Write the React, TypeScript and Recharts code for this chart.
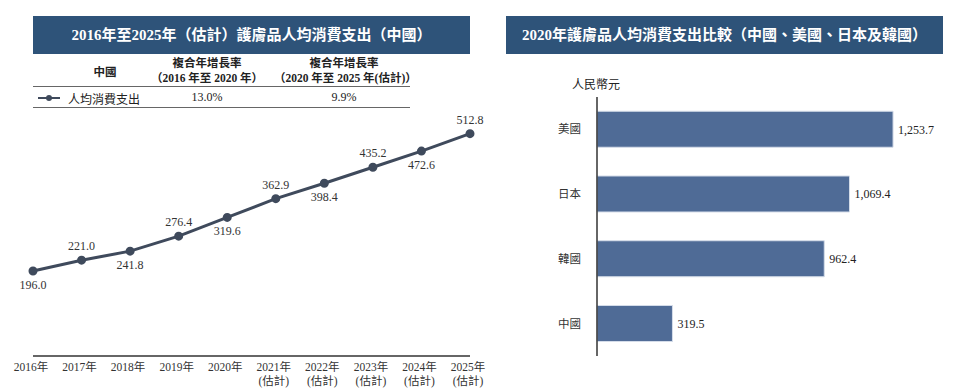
import React from 'react';
import { Bar, BarChart, LabelList, Line, LineChart, XAxis, YAxis } from 'recharts';

const years = ['2016年', '2017年', '2018年', '2019年', '2020年', '2021年', '2022年', '2023年', '2024年', '2025年'];
const estimatedYears = ['2021年', '2022年', '2023年', '2024年', '2025年'];
const spendChina = [196.0, 221.0, 241.8, 276.4, 319.6, 362.9, 398.4, 435.2, 472.6, 512.8];

const countries = ['美國', '日本', '韓國', '中國'];
const spend2020 = [1253.7, 1069.4, 962.4, 319.5];

const cagrLabels = ['（2016 年至 2020 年）', '（2020 年至 2025 年(估計)）'];
const cagrValues = ['13.0%', '9.9%'];

const FONT = "'Liberation Serif', 'Noto Sans CJK TC', serif";
const BANNER = '#2e5379';
const LINE = '#3f4a5c';
const BAR = '#4f6b96';

const lineData = years.map((y, i) => ({ year: y, value: spendChina[i] }));
const barData = countries.map((c, i) => ({ country: c, value: spend2020[i] }));

const YearTick = ({ x, y, payload }: any) => {
  const est = estimatedYears.includes(payload.value);
  return (
    <g transform={`translate(${x},${y})`}>
      <text textAnchor="middle" fontSize={11.5} fill="#333" fontFamily={FONT}>
        <tspan x={-2} dy={15}>{payload.value}</tspan>
        {est && <tspan x={-2} dy={14}>(估計)</tspan>}
      </text>
    </g>
  );
};

const PointLabel = ({ x, y, value, index }: any) => {
  const below = index % 2 === 0;
  return (
    <text x={x} y={below ? y + 18 : y - 10} textAnchor="middle" fontSize={12} fill="#333" fontFamily={FONT}>
      {Number(value).toFixed(1)}
    </text>
  );
};

const fmt = (v: number) =>
  v.toLocaleString('en-US', { minimumFractionDigits: 1, maximumFractionDigits: 1 });

const Banner = ({ left, width, text }: any) => (
  <div
    style={{
      position: 'absolute',
      left,
      top: 16,
      width,
      height: 38,
      background: BANNER,
      color: '#fff',
      fontWeight: 'bold',
      fontSize: 15,
      lineHeight: '38px',
      textAlign: 'center',
    }}
  >
    {text}
  </div>
);

const abs = (left: number, top: number, extra: any = {}) => ({
  position: 'absolute' as const,
  left,
  top,
  ...extra,
});

export default function App() {
  return (
    <div style={{ position: 'absolute', left: 0, top: 0, width: 962, height: 391, background: '#fff', fontFamily: FONT, color: '#222' }}>
      {/* left panel */}
      <Banner left={33} width={437} text="2016年至2025年（估計）護膚品人均消費支出（中國）" />

      <div style={abs(75, 63, { width: 60, textAlign: 'center', fontSize: 11.5, fontWeight: 'bold' })}>中國</div>
      {cagrLabels.map((t, i) => (
        <div
          key={t}
          style={abs(i === 0 ? 147 : 274, 56, { width: i === 0 ? 120 : 140, textAlign: 'center', fontSize: 11.5, fontWeight: 'bold', lineHeight: '15px' })}
        >
          <div>複合年增長率</div>
          <div>{t}</div>
        </div>
      ))}
      <div style={abs(33, 86, { width: 377, height: 1, background: '#666' })} />
      <div style={abs(38, 97, { width: 22, height: 2, background: LINE })} />
      <div style={abs(46, 95, { width: 6, height: 6, borderRadius: 3, background: LINE })} />
      <div style={abs(68, 90, { fontSize: 12 })}>人均消費支出</div>
      {cagrValues.map((v, i) => (
        <div key={v} style={abs(i === 0 ? 167 : 304, 90, { width: 80, textAlign: 'center', fontSize: 12 })}>
          {v}
        </div>
      ))}
      <div style={abs(33, 107, { width: 377, height: 1, background: '#666' })} />

      <div style={abs(0, 100)}>
        <LineChart width={500} height={291} data={lineData} margin={{ top: 17.5, right: 30, left: 33, bottom: 0 }}>
          <XAxis
            dataKey="year"
            height={35}
            tickLine={false}
            tickSize={0}
            tickMargin={0}
            interval={0}
            tick={<YearTick />}
            axisLine={{ stroke: '#333', strokeWidth: 1.5 }}
          />
          <YAxis hide domain={[0, 550]} />
          <Line
            dataKey="value"
            stroke={LINE}
            strokeWidth={3}
            dot={{ r: 3, fill: LINE, stroke: LINE }}
            isAnimationActive={false}
          >
            <LabelList dataKey="value" content={<PointLabel />} />
          </Line>
        </LineChart>
      </div>

      {/* right panel */}
      <Banner left={506} width={437} text="2020年護膚品人均消費支出比較（中國、美國、日本及韓國）" />
      <div style={abs(572, 75, { fontSize: 12 })}>人民幣元</div>

      <div style={abs(490, 60)}>
        <BarChart
          width={472}
          height={331}
          data={barData}
          layout="vertical"
          margin={{ top: 37, right: 34.4, left: 0, bottom: 35 }}
          barCategoryGap="22%"
        >
          <XAxis type="number" hide domain={[0, 1400]} />
          <YAxis
            type="category"
            dataKey="country"
            width={107}
            tickLine={false}
            tickMargin={10}
            tick={{ fontSize: 11.5, fill: '#333', fontFamily: FONT }}
            axisLine={{ stroke: '#333', strokeWidth: 1.5 }}
          />
          <Bar dataKey="value" fill={BAR} stroke="#d5dde9" strokeWidth={1} isAnimationActive={false}>
            <LabelList
              dataKey="value"
              position="right"
              offset={5}
              formatter={(v: any) => fmt(Number(v))}
              style={{ fontSize: 12, fill: '#222', fontFamily: FONT }}
            />
          </Bar>
        </BarChart>
      </div>
    </div>
  );
}
